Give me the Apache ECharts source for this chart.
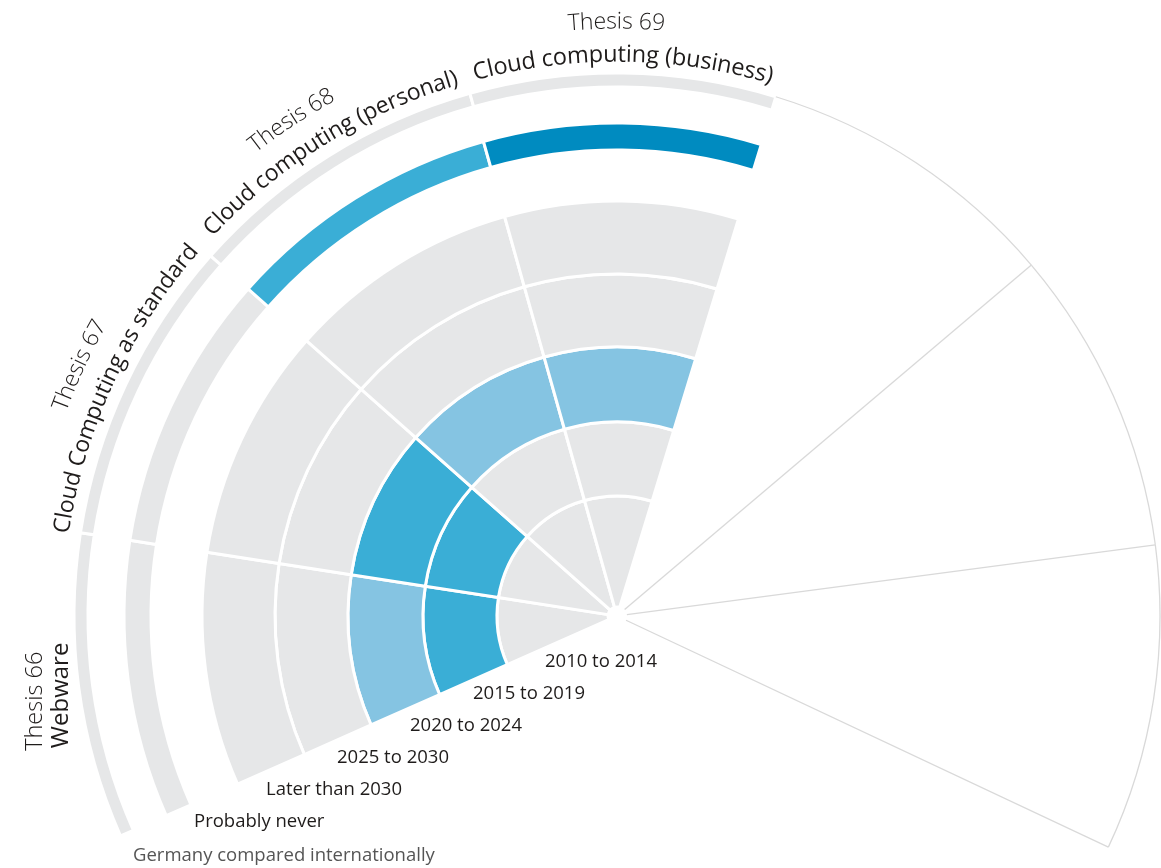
<!DOCTYPE html>
<html>
<head>
<meta charset="utf-8">
<script src="https://cdn.jsdelivr.net/npm/echarts@6/dist/echarts.min.js"></script>
<style>
html,body{margin:0;padding:0;background:#ffffff;}
#chart{width:1161px;height:868px;}
</style>
</head>
<body>
<div id="chart"></div>
<script>
// ---------------- DATA ----------------
const thesisNumbers = ['Thesis 66', 'Thesis 67', 'Thesis 68', 'Thesis 69'];
const thesisTitles  = ['Webware', 'Cloud Computing as standard', 'Cloud computing (personal)', 'Cloud computing (business)'];
const ringLabels = ['2010 to 2014', '2015 to 2019', '2020 to 2024', '2025 to 2030',
                    'Later than 2030', 'Probably never', 'Germany compared internationally'];
// shading level per ring (0 = none, 1 = light, 2 = medium, 3 = dark)
const thesis66 = [0, 2, 1, 0, 0, 0, 0];
const thesis67 = [0, 2, 2, 0, 0, 0, 0];
const thesis68 = [0, 0, 1, 0, 0, 2, 0];
const thesis69 = [0, 0, 1, 0, 0, 3, 0];
const unusedSlots = ['', '', '', '', '', '', ''];   // remaining sector slots of the circle
const outlinedSlots = [4, 5, 6];                     // slots drawn as empty outlines

// ---------------- LAYOUT ----------------
const CX = 617, CY = 616, OUTER = 543;
const START_ANGLE = 203.9;
const ringEdges = [[9,120],[120,194],[194,269],[269,342],[342,415],[466,493],[529,543]];
const levelColors = ['#e6e7e8', '#85c4e2', '#3aaed6', '#008bc0'];
const TXT = '#1f1c1b';
const FONT = "'Open Sans', 'Noto Sans', sans-serif";
const ringLabelPos = [[545,662],[473,694],[410,726],[337,758],[266,790],[194,822],[133,856]];
const numberShift = [0.8, 0.2, 1.2, 0.7];   // label angle nudges (deg)
const titleShift  = [0.6, 0.4, -0.4, 0];

const levels = [thesis66, thesis67, thesis68, thesis69];
const cells = [];
levels.forEach((arr, t) => arr.forEach((lv, ring) => cells.push([ring, t, lv])));
const angleCats = thesisNumbers.concat(unusedSlots);

// ---------------- TEXT HELPERS ----------------
const mctx = document.createElement('canvas').getContext('2d');
function textEl(str, x, y, rot, size, weight, color, align) {
  return {
    type: 'text', x: x, y: y, rotation: rot, silent: true,
    style: {
      text: str, fontSize: size, fontWeight: weight, fontFamily: FONT, fill: color,
      align: align || 'center', verticalAlign: 'middle',
      textAlign: align || 'center', textVerticalAlign: 'middle'
    }
  };
}
function curved(str, r, angDeg, size, weight, color) {
  mctx.font = weight + ' ' + size + 'px ' + FONT;
  const chars = Array.from(str);
  const widths = chars.map(c => mctx.measureText(c).width);
  const total = mctx.measureText(str).width;
  const sum = widths.reduce((a, b) => a + b, 0);
  const k = total / sum;
  const start = angDeg * Math.PI / 180 + total / 2 / r;
  let acc = 0;
  return chars.map((c, i) => {
    const w = widths[i] * k;
    const a = start - (acc + w / 2) / r;
    acc += w;
    return textEl(c, CX + r * Math.cos(a), CY - r * Math.sin(a), a - Math.PI / 2, size, weight, color);
  });
}
function straight(str, r, angDeg, rotDeg, size, weight, color) {
  const a = angDeg * Math.PI / 180;
  return [textEl(str, CX + r * Math.cos(a), CY - r * Math.sin(a), rotDeg * Math.PI / 180, size, weight, color)];
}

const step = 360 / angleCats.length;
const graphics = [];
thesisNumbers.forEach((num, t) => {
  const mid = START_ANGLE - step * (t + 0.5);
  if (t === 0) {
    graphics.push(...straight(num, 588, mid + numberShift[t], 90, 23.5, 300, TXT));
    graphics.push(...straight(thesisTitles[t], 561, mid + titleShift[t], 90, 24, 400, TXT));
  } else {
    graphics.push(...curved(num, 594, mid + numberShift[t], 23, 300, TXT));
    graphics.push(...curved(thesisTitles[t], 561, mid + titleShift[t], t === 3 ? 23.5 : 23, 400, TXT));
  }
});
ringLabels.forEach((lab, i) => {
  const p = ringLabelPos[i];
  graphics.push(textEl(lab, p[0], p[1], 0, 18.5, 400, i === 6 ? '#555555' : TXT, 'left'));
});

// ---------------- CHART ----------------
const chart = echarts.init(document.getElementById('chart'), null, {renderer: 'canvas'});
chart.setOption({
  animation: false,
  backgroundColor: '#ffffff',
  polar: { center: [CX, CY], radius: OUTER },
  radiusAxis: { type: 'value', min: 0, max: OUTER, show: false },
  angleAxis: { type: 'category', data: angleCats, startAngle: START_ANGLE, clockwise: true, show: false },
  series: [
    {
      type: 'custom', coordinateSystem: 'polar', silent: true,
      encode: { radius: 0, angle: 1 },
      data: cells,
      renderItem: function (params, api) {
        const ring = api.value(0), th = api.value(1), lv = api.value(2);
        const e = ringEdges[ring];
        const p = api.coord([e[1], th]);
        const half = api.size([0, 1])[1] / 2;
        const a = p[3];
        return {
          type: 'sector',
          shape: {
            cx: params.coordSys.cx, cy: params.coordSys.cy,
            r0: e[0], r: e[1],
            startAngle: -(a + half), endAngle: -(a - half), clockwise: true
          },
          style: { fill: levelColors[lv], stroke: '#ffffff', lineWidth: 3 }
        };
      }
    },
    {
      type: 'custom', coordinateSystem: 'polar', silent: true,
      encode: { radius: 0, angle: 1 },
      data: outlinedSlots.map(s => [OUTER, s]),
      renderItem: function (params, api) {
        const th = api.value(1);
        const p = api.coord([OUTER, th]);
        const half = api.size([0, 1])[1] / 2;
        const a = p[3];
        const cx = params.coordSys.cx, cy = params.coordSys.cy;
        const ea = a - half;
        const ls = { stroke: '#d9d9d9', lineWidth: 1.3, fill: null };
        return {
          type: 'group',
          children: [
            { type: 'arc', shape: { cx: cx, cy: cy, r: OUTER, startAngle: -(a + half), endAngle: -(a - half), clockwise: true }, style: ls },
            { type: 'line', shape: { x1: cx + 10 * Math.cos(ea), y1: cy - 10 * Math.sin(ea),
                                      x2: cx + OUTER * Math.cos(ea), y2: cy - OUTER * Math.sin(ea) }, style: ls }
          ]
        };
      }
    }
  ],
  graphic: { elements: graphics }
});
</script>
</body>
</html>
